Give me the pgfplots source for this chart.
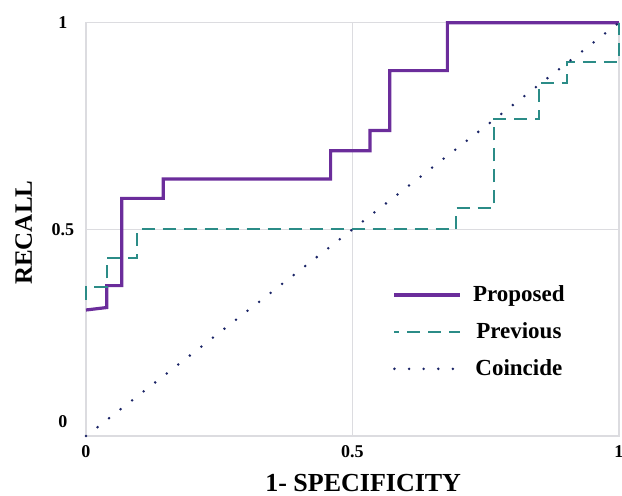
\documentclass[border=0pt]{standalone}
\usepackage{pgfplots}
\pgfplotsset{compat=1.18}
\usepackage{fontspec}
\setmainfont{Liberation Serif}
\definecolor{propc}{HTML}{6B2D9B}
\definecolor{prevc}{HTML}{2B8C87}
\definecolor{coinc}{HTML}{1A2466}
\definecolor{gridc}{HTML}{DCDCE0}
\pgfplotsset{
  legline/.style={legend image code/.code={\draw[##1] (0pt,0pt) -- (33pt,0pt);}},
  legdash/.style={legend image code/.code={\draw[##1, dash phase=4pt] (0pt,0pt) -- (33pt,0pt);}},
}
\begin{document}
\begin{tikzpicture}
\begin{axis}[
  scale only axis,
  width=266.5pt, height=206.7pt,
  xmin=0, xmax=1, ymin=0, ymax=1,
  clip=false,
  xtick={0,0.5,1}, xticklabels={0,0.5,1},
  ytick={0.5,1}, yticklabels={0.5,1},
  extra y ticks={0.036}, extra y tick labels={0},
  extra y tick style={grid=none},
  grid=major,
  grid style={color=gridc, line width=0.7pt},
  axis line style={color=gridc, line width=0.7pt},
  major tick length=0pt,
  tick style={draw=none},
  /pgf/number format/assume math mode=true,
  ticklabel style={font=\fontsize{9}{10}\selectfont\bfseries},
  yticklabel style={anchor=center, xshift=-11.5pt},
  xticklabel style={yshift=-1pt},
  xlabel={1- SPECIFICITY},
  ylabel={RECALL},
  xlabel style={font=\fontsize{13}{14}\selectfont\bfseries, at={(axis description cs:0.52,0)}, anchor=center, yshift=-23.5pt},
  ylabel style={font=\fontsize{12.5}{14}\selectfont\bfseries, at={(axis description cs:-0.117,0.492)}, anchor=center},
  legend cell align=center,
  legend style={draw=none, fill=none, at={(axis cs:0.575,0.252)}, anchor=west,
    font=\fontsize{11.5}{12}\selectfont\bfseries, row sep=5pt, column sep=3.5pt, inner sep=0pt},
]
\addplot[color=propc, line width=1.6pt, line join=miter, legline]
  coordinates {(0,0.305) (0.039,0.311) (0.039,0.364) (0.067,0.364) (0.067,0.575) (0.145,0.575) (0.145,0.622) (0.459,0.622) (0.459,0.690) (0.533,0.690) (0.533,0.739) (0.570,0.739) (0.570,0.884) (0.678,0.884) (0.678,1) (1,1)};
\addlegendentry{Proposed}
\addplot[color=prevc, line width=1.0pt, dash pattern=on 6.5pt off 4pt, legdash]
  coordinates {(0,0.33) (0,0.361) (0.039,0.361) (0.039,0.431) (0.096,0.431) (0.096,0.5) (0.695,0.5) (0.695,0.551) (0.765,0.551) (0.765,0.767) (0.850,0.767) (0.850,0.855) (0.902,0.855) (0.902,0.906) (1,0.906) (1,1)};
\addlegendentry{Previous}
\addplot[color=coinc, line width=1.4pt, line cap=round, dash pattern=on 0pt off 7.3pt, legline]
  coordinates {(0,0) (1,1)};
\addlegendentry{Coincide}
\end{axis}
\pgfresetboundingbox
\path[use as bounding box] ([xshift=-43pt,yshift=-29.5pt]current axis.south west) rectangle ([xshift=1.5pt,yshift=11.35pt]current axis.north east);
\end{tikzpicture}
\end{document}
